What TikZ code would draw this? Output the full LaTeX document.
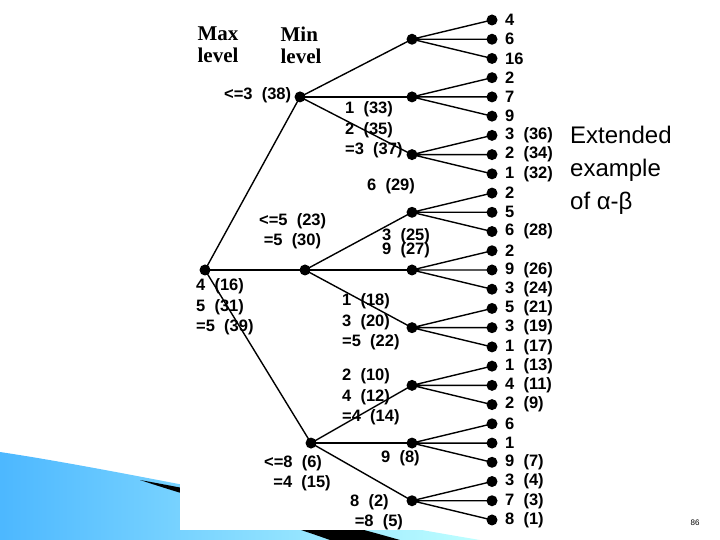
\documentclass[tikz,border=0pt]{standalone}
\usepackage{fontspec}
\setmainfont{Liberation Sans}
\newfontfamily\serifb{Liberation Serif}
\begin{document}
\begin{tikzpicture}[x=1pt,y=-1pt,
  dot/.style={circle,fill=black,inner sep=0pt,minimum size=11pt},
  lab/.style={font=\bfseries\fontsize{16.5}{20.5}\selectfont,inner sep=0pt},
  lvl/.style={font=\serifb\bfseries\fontsize{21}{22}\selectfont,align=left,inner sep=0pt},
  edge/.style={line width=1.4pt}]
\useasboundingbox (0,0) rectangle (720,540);
% swoosh
\shade[left color=cyan!60!blue!70,right color=cyan!25] (0,452) .. controls (120,470) and (300,510) .. (480,540) -- (0,540) -- cycle;
\fill[black] (140,480) .. controls (250,500) and (330,520) .. (400,540) -- (330,540) .. controls (260,515) and (200,500) .. (140,480) -- cycle;
\fill[white] (180,0) rectangle (560,530);
\node[lvl] (maxl) at (218,45) {Max\\level};
\node[lvl] (minl) at (301,45) {Min\\level};
% leaves
\foreach \i/\t in {1/4,2/6,3/16,4/2,5/7,6/9,7/3\ \ (36),8/2\ \ (34),9/1\ \ (32),10/2,11/5,12/6\ \ (28),13/2,14/9\ \ (26),15/3\ \ (24),16/5\ \ (21),17/3\ \ (19),18/1\ \ (17),19/1\ \ (13),20/4\ \ (11),21/2\ \ (9),22/6,23/1,24/9\ \ (7),25/3\ \ (4),26/7\ \ (3),27/8\ \ (1)}{
  \node[dot] (l\i) at (492,{20+(\i-1)*19.23}) {};
  \node[lab,anchor=west] (t\i) at (505,{20+(\i-1)*19.23}) {\t};
}
\foreach \j in {1,...,9}{
  \pgfmathtruncatemacro\m{3*\j-1}
  \node[dot] (n\j) at (412,{20+(\m-1)*19.23}) {};
  \pgfmathtruncatemacro\a{3*\j-2}
  \pgfmathtruncatemacro\c{3*\j}
  \draw[edge] (n\j.center) -- (l\a.center) (n\j.center) -- (l\m.center) (n\j.center) -- (l\c.center);
}
\node[dot] (m1) at (300,{20+4*19.23}) {};
\node[dot] (m2) at (305,{20+13*19.23}) {};
\node[dot] (m3) at (311,{20+22*19.23}) {};
\node[dot] (r) at (205,{20+13*19.23}) {};
\foreach \a/\b in {m1/n1,m1/n2,m1/n3,m2/n4,m2/n5,m2/n6,m3/n7,m3/n8,m3/n9,r/m1,r/m2,r/m3}
  \draw[edge] (\a.center) -- (\b.center);
% labels
\node[lab,anchor=west] (a1) at (224,95) {<=3\ \ (38)};
\node[lab,anchor=west,align=left] (a2) at (345,130) {1\ \ (33)\\2\ \ (35)\\=3\ \ (37)};
\node[lab,anchor=west] (a3) at (367,186) {6\ \ (29)};
\node[lab,anchor=west,align=left] (a4) at (259,231) {<=5\ \ (23)\\\ =5\ \ (30)};
\node[lab,anchor=west,align=left] (a5) at (382,243) {3\ \ (25)\\[-6pt]9\ \ (27)};
\node[lab,anchor=west,align=left] (a6) at (196,307) {4\ \ (16)\\5\ \ (31)\\=5\ \ (39)};
\node[lab,anchor=west,align=left] (a7) at (342,322) {1\ \ (18)\\3\ \ (20)\\=5\ \ (22)};
\node[lab,anchor=west,align=left] (a8) at (342,397) {2\ \ (10)\\4\ \ (12)\\=4\ \ (14)};
\node[lab,anchor=west] (a9) at (381,458) {9\ \ (8)};
\node[lab,anchor=west,align=left] (a10) at (264,473) {<=8\ \ (6)\\\ \ =4\ \ (15)};
\node[lab,anchor=west,align=left] (a11) at (350,512) {8\ \ (2)\\\ =8\ \ (5)};
\node[anchor=north west,align=left,font=\fontsize{24}{33}\selectfont,inner sep=0pt] (title) at (570,126) {Extended\\example\\of α-β};
\node[font=\fontsize{8}{8}\selectfont] (pg) at (695,523) {86};
\end{tikzpicture}
\end{document}
